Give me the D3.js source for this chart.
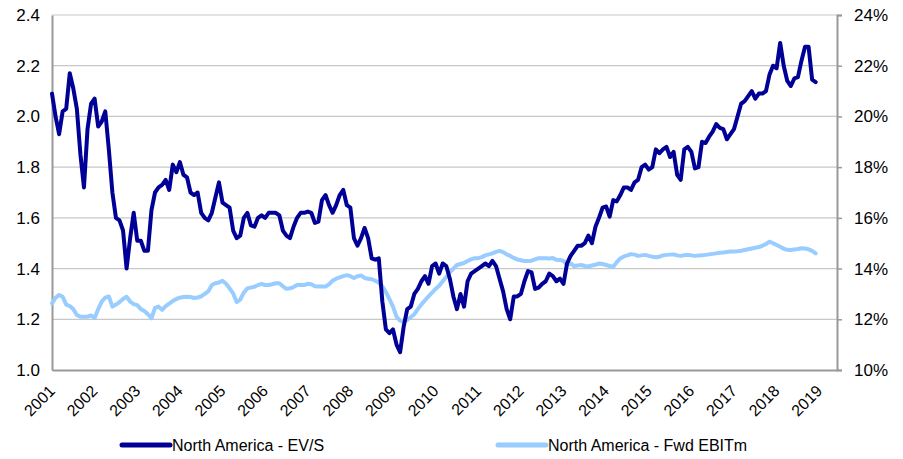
<!DOCTYPE html>
<html>
<head>
<meta charset="utf-8">
<script src="https://cdn.jsdelivr.net/npm/d3@7"></script>
<style>
  body { margin: 0; background: #fff; }
  svg { display: block; font-family: "Liberation Sans", Arial, sans-serif; }
</style>
</head>
<body>
<svg id="chart" width="903" height="459"></svg>
<script>
// ==== Data (monthly, Jan 2001 .. Dec 2018) ====
const years = ["2001","2002","2003","2004","2005","2006","2007","2008","2009","2010",
  "2011","2012","2013","2014","2015","2016","2017","2018","2019"];

// North America - EV/S (left axis)
const evs = [
  2.09,2.00,1.93,2.02,2.03,2.17,2.11,2.03,1.85,1.72,1.95,2.05,
  2.07,1.96,1.98,2.02,1.87,1.70,1.60,1.59,1.55,1.40,1.52,1.62,
  1.51,1.51,1.47,1.47,1.63,1.70,1.72,1.73,1.75,1.71,1.81,1.78,
  1.82,1.77,1.76,1.70,1.69,1.70,1.62,1.60,1.59,1.62,1.68,1.74,
  1.66,1.65,1.64,1.55,1.52,1.53,1.60,1.62,1.57,1.565,1.60,1.61,
  1.60,1.62,1.62,1.62,1.61,1.55,1.53,1.52,1.565,1.60,1.62,1.62,
  1.625,1.62,1.58,1.585,1.67,1.69,1.65,1.62,1.65,1.69,1.71,1.65,
  1.64,1.52,1.49,1.52,1.56,1.52,1.44,1.435,1.44,1.27,1.16,1.145,
  1.16,1.10,1.07,1.17,1.24,1.25,1.30,1.32,1.35,1.37,1.34,1.41,
  1.42,1.38,1.42,1.41,1.36,1.29,1.24,1.30,1.25,1.35,1.38,1.39,
  1.40,1.41,1.42,1.41,1.43,1.41,1.36,1.31,1.24,1.20,1.29,1.29,
  1.30,1.35,1.39,1.385,1.32,1.325,1.34,1.35,1.38,1.37,1.35,1.36,
  1.34,1.42,1.45,1.47,1.49,1.49,1.50,1.53,1.50,1.565,1.60,1.64,
  1.645,1.605,1.67,1.665,1.69,1.72,1.72,1.71,1.74,1.75,1.80,1.81,
  1.79,1.80,1.87,1.855,1.87,1.88,1.84,1.86,1.77,1.75,1.87,1.88,
  1.86,1.795,1.80,1.90,1.895,1.92,1.94,1.97,1.955,1.95,1.91,1.93,
  1.95,2.00,2.05,2.06,2.08,2.10,2.07,2.09,2.09,2.10,2.165,2.20,
  2.19,2.29,2.20,2.14,2.12,2.15,2.155,2.22,2.275,2.275,2.145,2.135
];

// North America - Fwd EBITm (right axis, %)
const ebitm = [
  12.63,12.85,12.96,12.89,12.58,12.52,12.40,12.17,12.10,12.10,12.10,12.15,
  12.05,12.40,12.70,12.85,12.90,12.50,12.58,12.68,12.80,12.89,12.70,12.60,
  12.56,12.40,12.33,12.20,12.04,12.45,12.50,12.37,12.52,12.62,12.72,12.80,
  12.85,12.88,12.89,12.88,12.84,12.86,12.90,13.00,13.10,13.35,13.42,13.45,
  13.52,13.40,13.22,13.02,12.68,12.78,13.05,13.22,13.25,13.28,13.35,13.40,
  13.35,13.35,13.38,13.42,13.42,13.30,13.20,13.22,13.27,13.35,13.35,13.35,
  13.40,13.38,13.30,13.29,13.29,13.29,13.38,13.52,13.60,13.65,13.70,13.74,
  13.70,13.63,13.70,13.73,13.63,13.60,13.58,13.52,13.45,13.30,13.07,12.80,
  12.50,12.10,11.95,11.90,11.97,12.08,12.20,12.40,12.58,12.75,12.90,13.05,
  13.20,13.32,13.50,13.67,13.85,14.00,14.14,14.18,14.22,14.30,14.36,14.41,
  14.41,14.45,14.52,14.56,14.60,14.66,14.70,14.65,14.56,14.50,14.42,14.36,
  14.33,14.30,14.30,14.31,14.36,14.41,14.41,14.41,14.40,14.42,14.35,14.34,
  14.30,14.15,14.20,14.10,14.12,14.14,14.10,14.08,14.12,14.15,14.20,14.18,
  14.14,14.10,14.07,14.25,14.40,14.48,14.52,14.57,14.55,14.50,14.52,14.54,
  14.50,14.47,14.45,14.47,14.52,14.54,14.55,14.56,14.52,14.50,14.53,14.54,
  14.52,14.50,14.52,14.53,14.54,14.56,14.58,14.60,14.62,14.63,14.65,14.67,
  14.67,14.68,14.70,14.73,14.76,14.79,14.82,14.85,14.90,14.97,15.06,15.00,
  14.93,14.86,14.78,14.74,14.73,14.75,14.77,14.80,14.79,14.76,14.70,14.60
];

const leftTicks = [1.0, 1.2, 1.4, 1.6, 1.8, 2.0, 2.2, 2.4];
const rightTicks = [10, 12, 14, 16, 18, 20, 22, 24];
const seriesNames = ["North America - EV/S", "North America - Fwd EBITm"];
const seriesColors = ["#000096", "#99ccff"];

// ==== Layout ====
const svg = d3.select("#chart");
const plot = { left: 52, right: 837, top: 15, bottom: 370 };

const x = d3.scaleLinear().domain([0, 221]).range([plot.left, plot.right]);
const yL = d3.scaleLinear().domain([1.0, 2.4]).range([plot.bottom, plot.top]);
const yR = d3.scaleLinear().domain([10, 24]).range([plot.bottom, plot.top]);

// gridlines
svg.append("g")
  .selectAll("line").data(leftTicks.slice(1)).join("line")
  .attr("x1", plot.left).attr("x2", plot.right)
  .attr("y1", d => yL(d)).attr("y2", d => yL(d))
  .attr("stroke", "#c8c8c8").attr("stroke-width", 1.2);

// left axis
const axL = svg.append("g").attr("transform", `translate(${plot.left},0)`)
  .call(d3.axisLeft(yL).tickValues(leftTicks).tickFormat(d3.format(".1f")).tickSize(0).tickPadding(12));
axL.select(".domain").attr("stroke", "#999").attr("stroke-width", 2);
axL.selectAll("text").attr("font-size", 17).attr("fill", "#000").attr("font-family", "Liberation Sans, Arial");

// right axis
const axR = svg.append("g").attr("transform", `translate(${plot.right},0)`)
  .call(d3.axisRight(yR).tickValues(rightTicks).tickFormat(d => d + "%").tickSize(5).tickPadding(12));
axR.select(".domain").attr("stroke", "#999").attr("stroke-width", 2);
axR.selectAll(".tick line").attr("stroke", "#999").attr("stroke-width", 1.5);
axR.selectAll("text").attr("font-size", 17).attr("fill", "#000").attr("font-family", "Liberation Sans, Arial");

// bottom axis (domain only); year labels follow 45deg guide paths
const yearTicks = years.map((_, i) => i * 12);
const axB = svg.append("g").attr("transform", `translate(0,${plot.bottom})`)
  .call(d3.axisBottom(x).tickValues(yearTicks).tickFormat("").tickSize(0));
axB.select(".domain").attr("stroke", "#999").attr("stroke-width", 2);

const defs = svg.append("defs");
defs.selectAll("path").data(yearTicks).join("path")
  .attr("id", d => "yr" + d)
  .attr("d", d => {
    const ex = x(d) + 4, ey = plot.bottom + 22;
    return `M${ex - 60},${ey + 60}L${ex},${ey}`;
  });

svg.append("g").selectAll("text").data(yearTicks).join("text")
  .attr("font-size", 16).attr("fill", "#000")
  .append("textPath")
  .attr("href", d => "#yr" + d)
  .attr("startOffset", "100%")
  .attr("text-anchor", "end")
  .text(d => years[d / 12]);

// lines
const lineL = d3.line().x((d, i) => x(i)).y(d => yL(d));
const lineR = d3.line().x((d, i) => x(i)).y(d => yR(d));

svg.append("path").datum(ebitm)
  .attr("fill", "none").attr("stroke", seriesColors[1]).attr("stroke-width", 4)
  .attr("stroke-linejoin", "round").attr("stroke-linecap", "round")
  .attr("d", lineR);

svg.append("path").datum(evs)
  .attr("fill", "none").attr("stroke", seriesColors[0]).attr("stroke-width", 4)
  .attr("stroke-linejoin", "round").attr("stroke-linecap", "round")
  .attr("d", lineL);

// legend
const legendX = [122, 498];
const leg = svg.append("g").selectAll("g").data(seriesNames).join("g")
  .attr("transform", (d, i) => `translate(${legendX[i]},445)`);
leg.append("line").attr("x1", 0).attr("x2", 48)
  .attr("stroke", (d, i) => seriesColors[i]).attr("stroke-width", 5).attr("stroke-linecap", "round");
leg.append("text").attr("x", 50).attr("dy", "0.35em")
  .attr("font-size", 16).attr("fill", "#000")
  .text(d => d);
</script>
</body>
</html>
